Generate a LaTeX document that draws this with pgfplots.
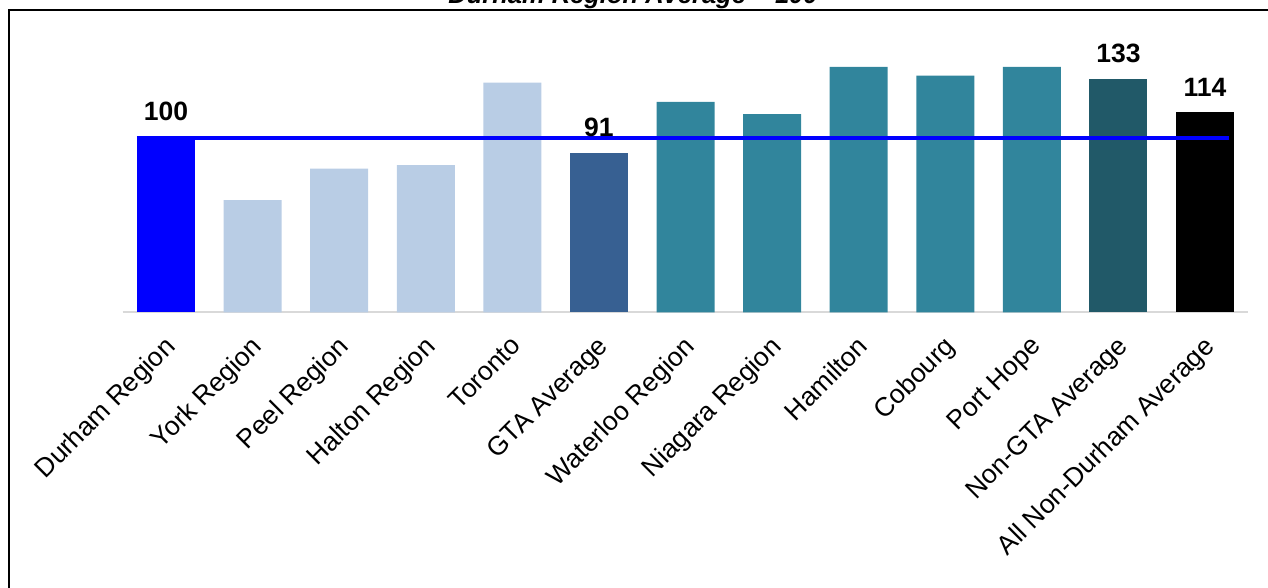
\documentclass[border=0pt]{standalone}
\usepackage{fontspec}
\setmainfont{Liberation Sans}
\usepackage{pgfplots}
\pgfplotsset{compat=1.18}

\definecolor{durham}{HTML}{0000FF}
\definecolor{gtalight}{HTML}{B9CDE5}
\definecolor{gtaavg}{HTML}{376092}
\definecolor{outer}{HTML}{31859C}
\definecolor{nongta}{HTML}{215968}
\definecolor{axisgray}{HTML}{D9D9D9}

\pgfplotsset{
  mybar/.style={ybar, bar width=58pt, bar shift=0pt, draw=none},
  vlabel/.style={nodes near coords,
    every node near coord/.append style={anchor=south, inner sep=0pt, yshift=16pt,
      font=\fontsize{26.5}{31}\selectfont\bfseries, text=black}},
}

\begin{document}
\begin{tikzpicture}
\useasboundingbox (0pt,0pt) rectangle (1268pt,588pt);
% frame
\draw[line width=2pt] (9pt,-5pt) -- (9pt,578pt) -- (1275pt,578pt);
% title
\node[anchor=base, inner sep=0pt, font=\fontsize{25.5}{30}\selectfont\bfseries\itshape]
  at (633pt,584pt) {Durham Region Average = 100};
\begin{axis}[
  at={(122.7pt,275.5pt)}, anchor=south west,
  scale only axis, width=1125.6pt, height=280.8pt,
  xmin=-0.5, xmax=12.5, ymin=0, ymax=160,
  axis x line*=bottom, axis y line=none,
  x axis line style={axisgray, line width=2pt, -},
  xtick={0,...,12},
  xticklabels={Durham Region, York Region, Peel Region, Halton Region, Toronto,
    GTA Average, Waterloo Region, Niagara Region, Hamilton, Cobourg, Port Hope,
    Non-GTA Average, All Non-Durham Average},
  major tick length=0pt,
  xticklabel shift=19pt,
  xticklabel style={rotate=45, anchor=north east, inner sep=0pt, xshift=-4pt,
    font=\fontsize{26.5}{31}\selectfont},
  ytick=\empty,
  clip=false,
  /pgf/number format/assume math mode=true,
  /pgf/number format/.cd, fixed, precision=0,
]
\addplot[mybar, fill=durham, vlabel] coordinates {(0,100)};
\addplot[mybar, fill=gtalight] coordinates {(1,64) (2,82) (3,84) (4,131)};
\addplot[mybar, fill=gtaavg, vlabel] coordinates {(5,91)};
\addplot[mybar, fill=outer] coordinates {(6,120) (7,113) (8,140) (9,135) (10,140)};
\addplot[mybar, fill=nongta, vlabel] coordinates {(11,133)};
\addplot[mybar, fill=black, vlabel] coordinates {(12,114)};
% Durham Region average reference line
\addplot[durham, line width=3.5pt, mark=none] coordinates {(-0.335,99.5) (12.28,99.5)};
\end{axis}
\end{tikzpicture}
\end{document}
